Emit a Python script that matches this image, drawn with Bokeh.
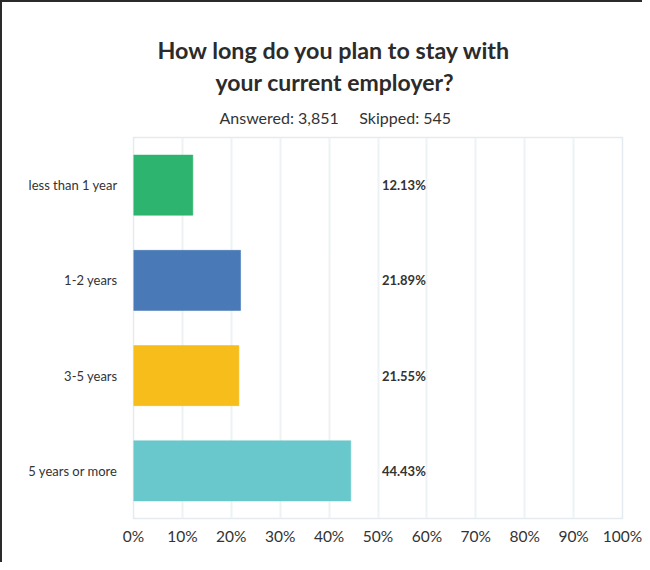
from bokeh.plotting import figure
from bokeh.models import ColumnDataSource, FixedTicker, Title, LabelSet, FactorRange
from bokeh.core.properties import value
from bokeh.embed import file_html
from bokeh.resources import INLINE

# ---- data ----
categories = ["less than 1 year", "1-2 years", "3-5 years", "5 years or more"]
shares = [0.1213, 0.2189, 0.2155, 0.4443]
share_labels = ["12.13%", "21.89%", "21.55%", "44.43%"]
bar_colors = ["#2db46e", "#4a79b7", "#f6bd1b", "#68c8cb"]
tick_values = [0, 0.1, 0.2, 0.3, 0.4, 0.5, 0.6, 0.7, 0.8, 0.9, 1.0]
tick_labels = ["0%", "10%", "20%", "30%", "40%", "50%", "60%", "70%", "80%", "90%", "100%"]
title_line1 = "How long do you plan to stay with"
title_line2 = "your current employer?"
subtitle = "Answered: 3,851\u00a0\u00a0\u00a0\u00a0\u00a0Skipped: 545"

LABEL_X = 0.508

source = ColumnDataSource(dict(
    cat=categories,
    share=shares,
    lbl=share_labels,
    color=bar_colors,
    lx=[LABEL_X] * len(categories),
))

FONT = "Lato"

p = figure(
    width=642, height=562,
    y_range=FactorRange(factors=list(reversed(categories)), range_padding=0),
    x_range=(0, 1),
    output_backend="svg", toolbar_location=None,
    min_border_left=131, min_border_right=22, min_border_bottom=46, min_border_top=135,
)
p.styles = {"border-left": "2px solid #2a2a2a", "border-top": "2px solid #2a2a2a", "box-sizing": "border-box"}

p.hbar(y="cat", right="share", left=0, height=0.63, source=source,
       fill_color="color", line_color="color", line_alpha=0.6)

labels = LabelSet(x="lx", y="cat", text="lbl", source=source,
                  text_font=value(FONT), text_font_style="bold", text_font_size="13px",
                  text_color="#333333", text_baseline="middle", text_align="left")
p.add_layout(labels)

# titles (last added sits on top), centred over the whole canvas via left offsets
p.add_layout(Title(text=subtitle, align="left", offset=86, text_font=FONT, text_font_style="normal",
                   text_font_size="16px", text_color="#333333", standoff=21), "above")
p.add_layout(Title(text=title_line2, align="left", offset=82, text_font=FONT, text_font_style="bold",
                   text_font_size="23px", text_color="#2b2b2b", standoff=0), "above")
p.add_layout(Title(text=title_line1, align="left", offset=24, text_font=FONT, text_font_style="bold",
                   text_font_size="23.3px", text_color="#2b2b2b", standoff=3), "above")

p.xaxis.ticker = FixedTicker(ticks=tick_values)
p.xaxis.major_label_overrides = {v: l for v, l in zip(tick_values, tick_labels)}
p.xaxis.major_label_text_font = FONT
p.xaxis.major_label_text_font_size = "15.5px"
p.xaxis.major_label_text_color = "#333333"
p.xaxis.major_label_standoff = 2
p.yaxis.major_label_text_font = FONT
p.yaxis.major_label_text_font_size = "13px"
p.yaxis.major_label_text_color = "#333333"
p.yaxis.major_label_standoff = 10
for ax in (p.xaxis, p.yaxis):
    ax.axis_line_color = None
    ax.major_tick_line_color = None
    ax.minor_tick_line_color = None

p.xgrid.grid_line_color = "#edf2f5"
p.xgrid.grid_line_width = 2
p.ygrid.grid_line_color = None
p.outline_line_color = "#e3ebf0"
p.outline_line_width = 1.5
p.background_fill_color = "white"
p.border_fill_color = "white"

open("out.html", "w").write(file_html(p, INLINE))
